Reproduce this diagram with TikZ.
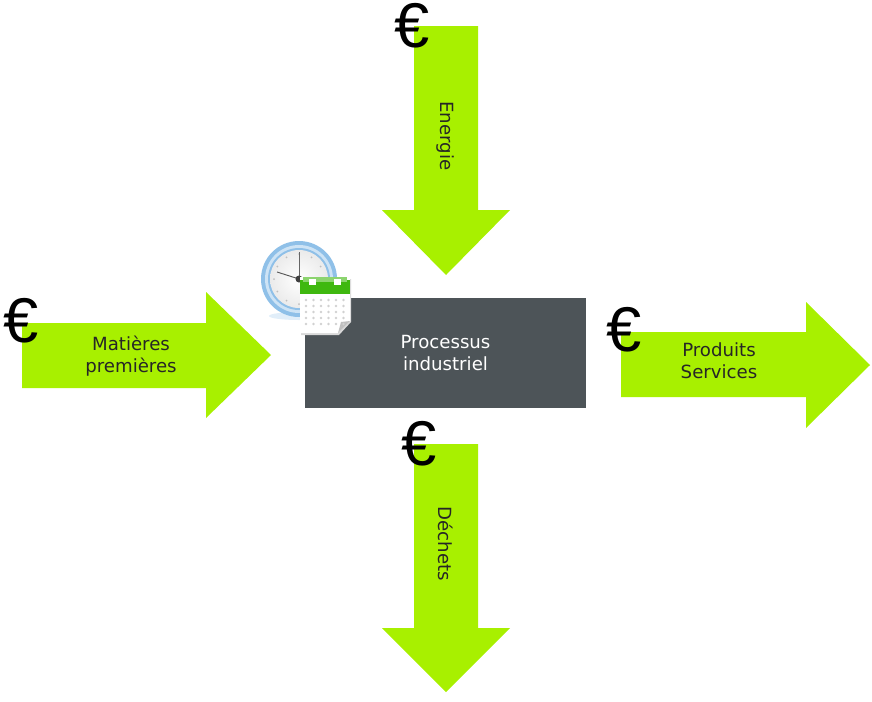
\documentclass[tikz,border=0pt]{standalone}
\usepackage{fontspec}
\setmainfont{DejaVu Sans}
\newfontfamily\eurofont{Liberation Sans}
\definecolor{vertflux}{HTML}{A8F000}
\definecolor{grisboite}{HTML}{4D5458}
\definecolor{bleucadran}{HTML}{8FC0E8}
\definecolor{vertcal}{HTML}{3FB80F}
\tikzset{
    fleche/.style={fill=vertflux,draw=none},
    texteflux/.style={font=\fontsize{15.5}{19}\selectfont,align=center,text=black!85},
    euro/.style={font=\eurofont\fontsize{54}{54}\selectfont,text=black,inner sep=0pt}
}
\begin{document}
\begin{tikzpicture}[x=0.03cm,y=-0.03cm]
    \useasboundingbox (0,0) rectangle (872,701);

    % Fleches
    \fill[fleche] (414,26) -- (478,26) -- (478,210) -- (510,210) -- (446,275) -- (382,210) -- (414,210) -- cycle;
    \fill[fleche] (414,444) -- (478,444) -- (478,628) -- (510,628) -- (446,692) -- (382,628) -- (414,628) -- cycle;
    \fill[fleche] (22,323) -- (206,323) -- (206,292) -- (271,355) -- (206,418) -- (206,388) -- (22,388) -- cycle;
    \fill[fleche] (621,332) -- (806,332) -- (806,302) -- (870,365) -- (806,428) -- (806,397) -- (621,397) -- cycle;

    % Boite centrale
    \node[fill=grisboite,minimum width=281*0.03cm,minimum height=110*0.03cm,inner sep=0pt,
        texteflux,text=white] (processus) at (445.5,353) {Processus\\industriel};

    % Horloge
    \coordinate (centre) at (299,279);
    \fill[bleucadran!45,opacity=0.6] (299,316) ellipse (30 and 4);
    \fill[bleucadran] (centre) circle (38);
    \fill[bleucadran!45] (centre) circle (34);
    \fill[bleucadran] (centre) circle (31);
    \shade[inner color=white,outer color=black!8] (centre) circle (29);
    \foreach \a in {0,30,...,330}
        \fill[black!25] (centre) ++(\a:25) circle (1);
    \draw[black!60,line width=0.5pt] (centre) -- ++(0,-27);
    \draw[black!65,line width=0.8pt] (centre) -- (277,272);
    \fill[black!75] (centre) circle (3.5);

    % Calendrier
    \fill[black!15] (301,279) -- (351,279) -- (351,322) -- (339,335) -- (301,335) -- cycle;
    \fill[white] (300,277) -- (350,277) -- (350,321) -- (338,333) -- (300,333) -- cycle;
    \fill[vertcal] (300,280) rectangle (350,294);
    \fill[vertcal!60!white] (303,277) rectangle (347,282);
    \fill[black!25] (338,333) -- (341,322) -- (350,321) -- cycle;
    \foreach \i in {0,...,5}
        \foreach \j in {0,...,4}
            \fill[black!18] (306+\i*7.5,300+\j*6) circle (1.3);
    \fill[white] (309,279) rectangle (316,285);
    \fill[white] (334,279) rectangle (341,285);

    % Textes des fleches
    \node[texteflux] (matieres) at (131,356) {Matières\\premières};
    \node[texteflux] (produits) at (719,361) {Produits\\Services};
    \node[texteflux,rotate=-90] (energie) at (446,136) {Energie};
    \node[texteflux,rotate=-90] (dechets) at (446,544) {Déchets};

    % Symboles euro
    \node[euro] (euroA) at (412,26) {€};
    \node[euro] (euroB) at (21,321) {€};
    \node[euro] (euroC) at (624,330) {€};
    \node[euro] (euroD) at (419,444) {€};
\end{tikzpicture}
\end{document}
